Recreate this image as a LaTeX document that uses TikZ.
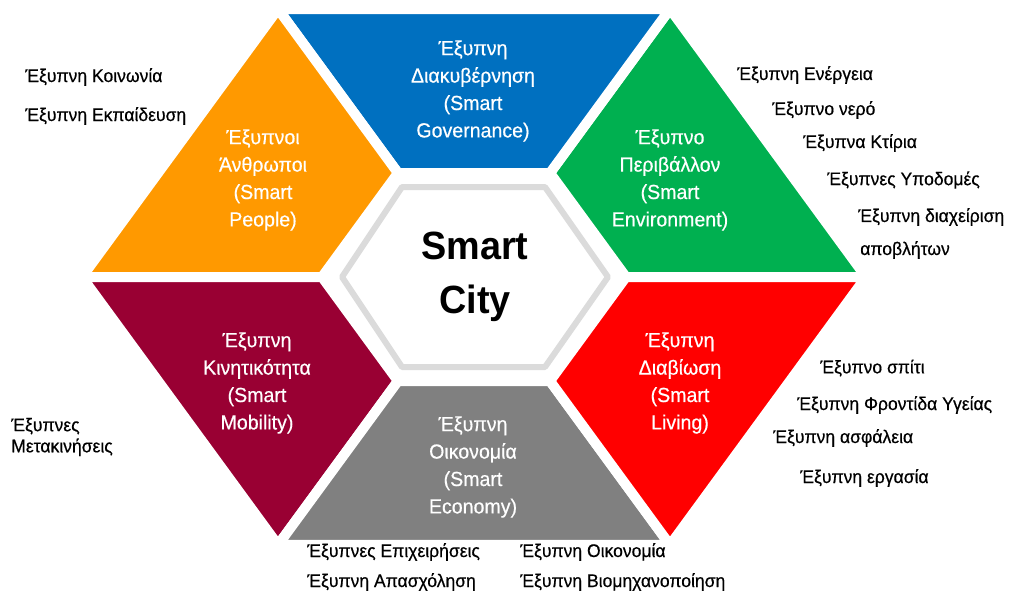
\documentclass[tikz,border=0pt]{standalone}
\usepackage{fontspec}
\setmainfont{Liberation Sans}[FakeStretch=0.96, UprightFeatures={FakeBold=0.5}]
\usepackage{tikz}
\usetikzlibrary{calc}
\definecolor{govblue}{HTML}{0070C0}
\definecolor{envgreen}{HTML}{00B050}
\definecolor{peopleorange}{HTML}{FF9900}
\definecolor{mobmaroon}{HTML}{990033}
\definecolor{livred}{HTML}{FF0000}
\definecolor{ecogray}{HTML}{808080}
\tikzset{
    segment/.style={draw=white, line width=0.25cm, line join=round},
    hubshape/.style={fill=white, draw=black!14, line width=0.15cm, line join=round},
    segtext/.style={text=white, align=center, inner sep=0pt,
        font=\fontsize{14.5}{19.5}\selectfont},
    hubtext/.style={align=center, inner sep=0pt,
        font=\fontsize{28}{38}\selectfont\bfseries},
    item/.style={anchor=west, inner sep=0pt, font=\fontsize{13}{15}\selectfont},
}
\begin{document}
\begin{tikzpicture}[x=0.025cm, y=-0.025cm]
	\useasboundingbox (0,0) rectangle (1010,594);
	\foreach \k in {0,...,5} {
		\coordinate (o\k) at ({474+392*cos(60*\k)}, {277-268*sin(60*\k)/sin(60)});
		\coordinate (i\k) at ({474+152*cos(60*\k)}, {277-104*sin(60*\k)/sin(60)});
	}
	\foreach \k/\col in {0/envgreen,1/govblue,2/peopleorange,3/mobmaroon,4/ecogray,5/livred} {
		\pgfmathtruncatemacro{\n}{mod(\k+1,6)}
		\path[segment, fill=\col] (o\k) -- (o\n) -- (i\n) -- (i\k) -- cycle;
	}
	\draw[hubshape] (342,277) -- (402,187) -- (545,187) -- (608,277)
		-- (545,367) -- (402,367) -- cycle;
	\node[hubtext] (hub) at (475,277) {Smart\\City};
%
	\node[segtext] (gov) at (473,91) {Έξυπνη\\Διακυβέρνηση\\(Smart\\Governance)};
	\node[segtext] (people) at (263,180) {Έξυπνοι\\Άνθρωποι\\(Smart\\People)};
	\node[segtext] (env) at (670,180) {Έξυπνο\\Περιβάλλον\\(Smart\\Environment)};
	\node[segtext] (mob) at (257,383) {Έξυπνη\\Κινητικότητα\\(Smart\\Mobility)};
	\node[segtext] (liv) at (680,383) {Έξυπνη\\Διαβίωση\\(Smart\\Living)};
	\node[segtext] (eco) at (473,467) {Έξυπνη\\Οικονομία\\(Smart\\Economy)};
%
	\node[item] (society) at (25,77) {Έξυπνη Κοινωνία};
	\node[item] (education) at (25,116) {Έξυπνη Εκπαίδευση};
	\node[item] (energy) at (737,75) {Έξυπνη Ενέργεια};
	\node[item] (water) at (772,110) {Έξυπνο νερό};
	\node[item] (buildings) at (803,143) {Έξυπνα Κτίρια};
	\node[item] (infra) at (827,180) {Έξυπνες Υποδομές};
	\node[item] (waste) at (858,217) {Έξυπνη διαχείριση};
	\node[item] (waste2) at (860,250) {αποβλήτων};
	\node[item, align=left] (moves) at (11,437) {Έξυπνες\\Μετακινήσεις};
	\node[item] (home) at (820,368) {Έξυπνο σπίτι};
	\node[item] (health) at (797,405) {Έξυπνη Φροντίδα Υγείας};
	\node[item] (safety) at (773,438) {Έξυπνη ασφάλεια};
	\node[item] (work) at (800,478) {Έξυπνη εργασία};
	\node[item] (business) at (307,552) {Έξυπνες Επιχειρήσεις};
	\node[item] (employ) at (307,582) {Έξυπνη Απασχόληση};
	\node[item] (economy) at (520,552) {Έξυπνη Οικονομία};
	\node[item] (industry) at (520,582) {Έξυπνη Βιομηχανοποίηση};
\end{tikzpicture}
\end{document}
